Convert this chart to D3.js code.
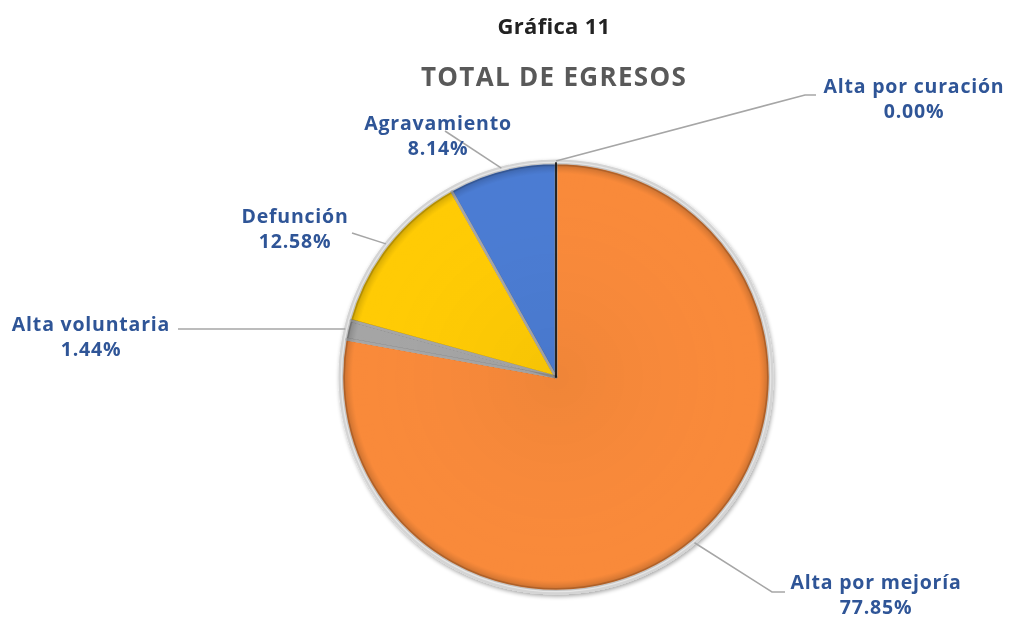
<!DOCTYPE html>
<html>
<head>
<meta charset="utf-8">
<script src="https://cdn.jsdelivr.net/npm/d3@7"></script>
<style>
  body { margin: 0; background: #fff; }
  text { font-family: "Open Sans", "DejaVu Sans", sans-serif; font-weight: 700; }
</style>
</head>
<body>
<script>
// datos de la grafica
var categorias = ["Alta por mejoría", "Alta voluntaria", "Defunción", "Agravamiento", "Alta por curación"]
var valores = [77.85, 1.44, 12.58, 8.14, 0.0]
var etiquetas = ["77.85%", "1.44%", "12.58%", "8.14%", "0.00%"]
var colores = ["#F98A3A", "#A5A5A5", "#FFCB05", "#4B7CD3", "#5B9BD5"]

var w = 1011, h = 621
var cx = 556, cy = 377, r = 214

// donde va cada etiqueta (centro del texto) y el codo de la linea guia
var posEtiqueta = [
	{ x: 876, y: 589, codo: [[772, 592], [785, 592]] },
	{ x: 91, y: 331, codo: [[178, 329]] },
	{ x: 295, y: 223, codo: [[352, 233]] },
	{ x: 438, y: 130, codo: [[445, 131]] },
	{ x: 914, y: 93, codo: [[805, 95], [816, 95]] }
]

var svg = d3.select("body").append("svg")
	.attr("width", w)
	.attr("height", h)

var defs = svg.append("defs")

// sombreado radial para simular el bisel (coordenadas del grupo centrado)
var grad = defs.append("radialGradient")
	.attr("id", "bisel")
	.attr("gradientUnits", "userSpaceOnUse")
	.attr("cx", 0).attr("cy", 0).attr("r", r)
grad.append("stop").attr("offset", "0%").attr("stop-color", "#000").attr("stop-opacity", 0.04)
grad.append("stop").attr("offset", "88%").attr("stop-color", "#fff").attr("stop-opacity", 0.0)
grad.append("stop").attr("offset", "95%").attr("stop-color", "#fff").attr("stop-opacity", 0.15)
grad.append("stop").attr("offset", "100%").attr("stop-color", "#000").attr("stop-opacity", 0.25)

var sombra = defs.append("filter").attr("id", "sombra")
	.attr("x", "-10%").attr("y", "-10%").attr("width", "120%").attr("height", "120%")
sombra.append("feGaussianBlur").attr("in", "SourceAlpha").attr("stdDeviation", 2)
sombra.append("feOffset").attr("dx", 1).attr("dy", 2).attr("result", "b")
sombra.append("feComponentTransfer").append("feFuncA").attr("type", "linear").attr("slope", 0.35)
var merge = sombra.append("feMerge")
merge.append("feMergeNode")
merge.append("feMergeNode").attr("in", "SourceGraphic")

// titulos
svg.append("text")
	.attr("x", 554).attr("y", 34)
	.attr("text-anchor", "middle")
	.attr("fill", "#222")
	.style("font-size", "22px")
	.style("letter-spacing", "0.3px")
	.text("Gráfica 11")

svg.append("text")
	.attr("x", 554).attr("y", 86)
	.attr("text-anchor", "middle")
	.attr("fill", "#595959")
	.style("font-size", "26px")
	.style("letter-spacing", "1.3px")
	.text("TOTAL DE EGRESOS")

var pie = d3.pie().sort(null).value(function(d) { return d })
var arcos = pie(valores)

var arc = d3.arc().innerRadius(0).outerRadius(r)
var arcGuia = d3.arc().innerRadius(r + 2).outerRadius(r + 2)

var g = svg.append("g").attr("transform", "translate(" + cx + "," + cy + ")")

// anillo exterior claro
g.append("circle")
	.attr("r", r + 2)
	.attr("fill", "#fff")
	.attr("stroke", "#d4d4d4")
	.attr("stroke-width", 3)
	.attr("filter", "url(#sombra)")

g.selectAll("path.rebanada")
	.data(arcos)
	.enter()
	.append("path")
	.attr("class", "rebanada")
	.attr("d", arc)
	.attr("fill", function(d, i) { return colores[i] })
	.attr("stroke", function(d) { return d.value === 0 ? "#333" : "#e6e6e6" })
	.attr("stroke-width", function(d) { return d.value === 0 ? 2 : 2.5 })
	.attr("stroke-linejoin", "round")

// bisel encima
g.selectAll("path.brillo")
	.data(arcos.filter(function(d) { return d.value > 0 }))
	.enter()
	.append("path")
	.attr("class", "brillo")
	.attr("d", d3.arc().innerRadius(0).outerRadius(r - 1.5))
	.attr("fill", "url(#bisel)")
	.attr("stroke", "rgba(0,0,0,0.15)")
	.attr("stroke-width", 3)
	.attr("stroke-linejoin", "round")
	.style("mix-blend-mode", "multiply")

// lineas guia
var guias = svg.append("g")
arcos.forEach(function(d, i) {
	var c = arcGuia.centroid(d)
	var p = [[cx + c[0], cy + c[1]]].concat(posEtiqueta[i].codo)
	guias.append("path")
		.attr("d", d3.line()(p))
		.attr("fill", "none")
		.attr("stroke", "#a6a6a6")
		.attr("stroke-width", 1.5)
})

// etiquetas
var etq = svg.append("g").selectAll("text")
	.data(arcos)
	.enter()
	.append("text")
	.attr("text-anchor", "middle")
	.attr("fill", "#2F5597")
	.style("font-size", "19.5px")
	.style("letter-spacing", "0.8px")
	.attr("transform", function(d, i) {
		return "translate(" + posEtiqueta[i].x + "," + posEtiqueta[i].y + ")"
	})
etq.append("tspan").attr("x", 0).attr("y", 0).text(function(d, i) { return categorias[i] })
etq.append("tspan").attr("x", 0).attr("y", 25).text(function(d, i) { return etiquetas[i] })
</script>
</body>
</html>
